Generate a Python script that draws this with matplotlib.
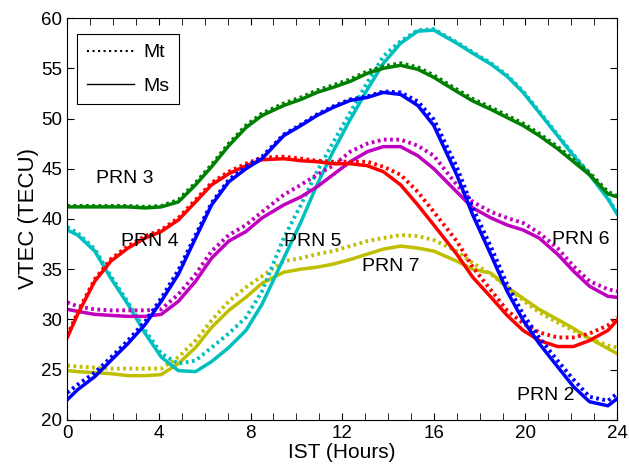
import numpy as np
import matplotlib.pyplot as plt
from matplotlib.lines import Line2D

plt.rcParams['font.family'] = ['Liberation Sans', 'DejaVu Sans']

hours = [0, 0.45, 1.2, 1.9, 2.65, 3.4, 4.1, 4.85, 5.6, 6.3, 7.05, 7.8, 8.5,
         9.45, 10.2, 10.9, 11.6, 12.35, 13.1, 13.8, 14.55, 15.3, 16.0,
         17.0, 17.7, 18.5, 19.2, 19.9, 20.6, 21.4, 22.1, 22.8, 23.6, 24.0]

# PRN 3 (green)
prn3_ms = [41.2, 41.2, 41.2, 41.2, 41.2, 41.1, 41.2, 41.7, 43.4, 45.2, 47.3, 49.1, 50.3,
           51.3, 51.9, 52.6, 53.1, 53.7, 54.5, 55.0, 55.3, 54.9, 54.1,
           52.7, 51.75, 50.9, 50.1, 49.3, 48.3, 47.0, 45.7, 44.4, 42.5, 42.2]
prn3_mt = [41.3, 41.3, 41.3, 41.3, 41.3, 41.2, 41.3, 41.9, 43.6, 45.4, 47.5, 49.3, 50.5,
           51.5, 52.1, 52.8, 53.3, 53.9, 54.7, 55.2, 55.5, 55.1, 54.3,
           52.9, 51.95, 51.1, 50.3, 49.5, 48.5, 47.2, 45.9, 44.6, 42.7, 42.3]

# cyan
cyan_ms = [38.9, 38.4, 36.8, 34.1, 31.5, 28.6, 26.25, 24.9, 24.8, 25.8, 27.2, 28.9, 31.5,
           36.1, 39.7, 43.4, 46.7, 49.9, 52.9, 55.5, 57.5, 58.7, 58.8,
           57.5, 56.5, 55.4, 54.2, 52.6, 50.6, 48.3, 46.3, 44.4, 42.0, 40.5]
cyan_mt = [39.2, 38.6, 37.0, 34.3, 31.7, 28.9, 26.6, 25.6, 25.9, 27.2, 28.6, 30.2, 32.8,
           38.1, 41.4, 44.7, 47.6, 50.6, 53.6, 56.2, 57.7, 58.8, 58.9,
           57.6, 56.6, 55.5, 54.3, 52.7, 50.7, 48.4, 46.4, 44.5, 42.1, 40.6]

# PRN 2 (blue)
prn2_ms = [22.0, 23.0, 24.3, 25.9, 27.6, 29.5, 31.8, 34.5, 38.1, 41.4, 43.7, 45.0, 46.0,
           48.3, 49.3, 50.3, 51.1, 51.8, 52.1, 52.6, 52.4, 51.3, 49.3,
           44.4, 40.4, 36.4, 32.8, 29.9, 27.6, 25.3, 23.3, 21.8, 21.4, 22.1]
prn2_mt = [22.7, 23.5, 24.7, 26.2, 27.9, 29.8, 32.1, 34.9, 38.4, 41.6, 43.9, 45.2, 46.2,
           48.4, 49.4, 50.4, 51.2, 51.9, 52.2, 52.7, 52.6, 51.7, 49.9,
           45.2, 41.1, 37.2, 33.5, 30.5, 28.2, 25.9, 24.0, 22.3, 21.9, 22.6]

# PRN 4 (red)
prn4_ms = [28.2, 30.5, 33.8, 35.8, 37.1, 38.1, 38.75, 39.9, 41.7, 43.4, 44.5, 45.3, 45.9,
           46.0, 45.8, 45.7, 45.5, 45.5, 45.3, 44.7, 43.4, 41.4, 39.4,
           36.5, 34.2, 32.2, 30.4, 28.9, 27.9, 27.3, 27.3, 27.9, 28.9, 29.9]
prn4_mt = [28.4, 30.7, 34.0, 36.0, 37.3, 38.3, 38.9, 40.1, 41.9, 43.6, 44.7, 45.5, 46.1,
           46.2, 46.0, 45.8, 45.7, 45.7, 45.7, 45.2, 44.4, 42.7, 40.7,
           37.8, 35.2, 32.9, 30.9, 29.6, 28.7, 28.2, 28.2, 28.6, 29.4, 30.2]

# PRN 6 (magenta)
prn6_ms = [31.0, 30.8, 30.5, 30.4, 30.3, 30.3, 30.5, 31.8, 33.8, 36.1, 37.8, 38.75, 40.1,
           41.4, 42.2, 43.2, 44.4, 45.7, 46.7, 47.2, 47.2, 46.3, 45.0,
           42.7, 41.1, 40.1, 39.4, 38.9, 38.1, 36.5, 34.8, 33.3, 32.3, 32.2]
prn6_mt = [31.7, 31.3, 31.0, 30.9, 30.9, 30.9, 31.0, 32.5, 34.5, 36.8, 38.4, 39.4, 40.7,
           42.4, 43.4, 44.4, 45.3, 46.7, 47.5, 47.9, 47.9, 47.3, 46.3,
           43.4, 41.7, 40.7, 40.1, 39.6, 38.6, 37.1, 35.3, 33.8, 33.0, 32.8]

# PRN 7 (yellow)
prn7_ms = [24.9, 24.8, 24.7, 24.6, 24.4, 24.4, 24.5, 25.6, 27.2, 29.2, 30.9, 32.2, 33.6,
           34.7, 35.0, 35.2, 35.5, 35.96, 36.5, 37.0, 37.3, 37.1, 36.8,
           35.8, 35.0, 34.6, 33.2, 32.1, 31.0, 30.0, 29.1, 28.1, 27.1, 26.6]
prn7_mt = [25.4, 25.3, 25.2, 25.1, 25.1, 25.1, 25.1, 26.25, 27.9, 29.9, 31.8, 33.2, 34.3,
           35.8, 36.1, 36.5, 36.8, 37.3, 37.8, 38.1, 38.4, 38.3, 37.9,
           36.8, 35.6, 34.5, 33.2, 31.9, 30.7, 29.7, 28.9, 28.1, 27.4, 27.2]

series = [
    (prn7_ms, prn7_mt, (0.75, 0.75, 0)),
    (cyan_ms, cyan_mt, (0, 0.75, 0.75)),
    (prn6_ms, prn6_mt, (0.75, 0, 0.75)),
    (prn4_ms, prn4_mt, 'r'),
    (prn2_ms, prn2_mt, 'b'),
    (prn3_ms, prn3_mt, (0, 0.5, 0)),
]

labels = ["PRN 3", "PRN 4", "PRN 5", "PRN 7", "PRN 6", "PRN 2"]
label_pos = [(2.5, 44.0), (3.6, 37.8), (10.7, 37.8), (14.1, 35.3), (22.4, 38.0), (20.9, 22.4)]

fig = plt.figure(figsize=(6.29, 4.76), dpi=100)
ax = fig.add_axes([0.107, 0.118, 0.874, 0.844])

for ms, mt, c in series:
    ax.plot(hours, mt, color=c, lw=2.8, linestyle=(0, (0.7, 0.9)))
    ax.plot(hours, ms, color=c, lw=2.5)

for txt, (x, y) in zip(labels, label_pos):
    ax.text(x, y, txt, ha='center', va='center', fontsize=14)

ax.set_xlim(0, 24)
ax.set_ylim(20, 60)
ax.set_xticks(range(0, 25, 4))
ax.set_xticks(range(0, 25), minor=True)
ax.set_yticks(range(20, 61, 5))
ax.tick_params(direction='in', top=True, right=True, labelsize=13.5, length=5)
ax.tick_params(which='minor', direction='in', top=True, length=5)
ax.set_xlabel('IST (Hours)', fontsize=15, labelpad=1)
ax.set_ylabel('VTEC (TECU)', fontsize=16, labelpad=2)

handles = [Line2D([], [], color='k', lw=1.5, linestyle=':'),
           Line2D([], [], color='k', lw=1)]
leg = ax.legend(handles, ['Mt', 'Ms'], loc='upper left', fontsize=14, fancybox=False,
                edgecolor='k', framealpha=1, handlelength=2.4, handletextpad=0.5,
                labelspacing=0.8, borderpad=0.5, borderaxespad=0,
                bbox_to_anchor=(0.018, 0.96))
leg.get_frame().set_linewidth(0.8)

fig.savefig('out.png', dpi=100)
